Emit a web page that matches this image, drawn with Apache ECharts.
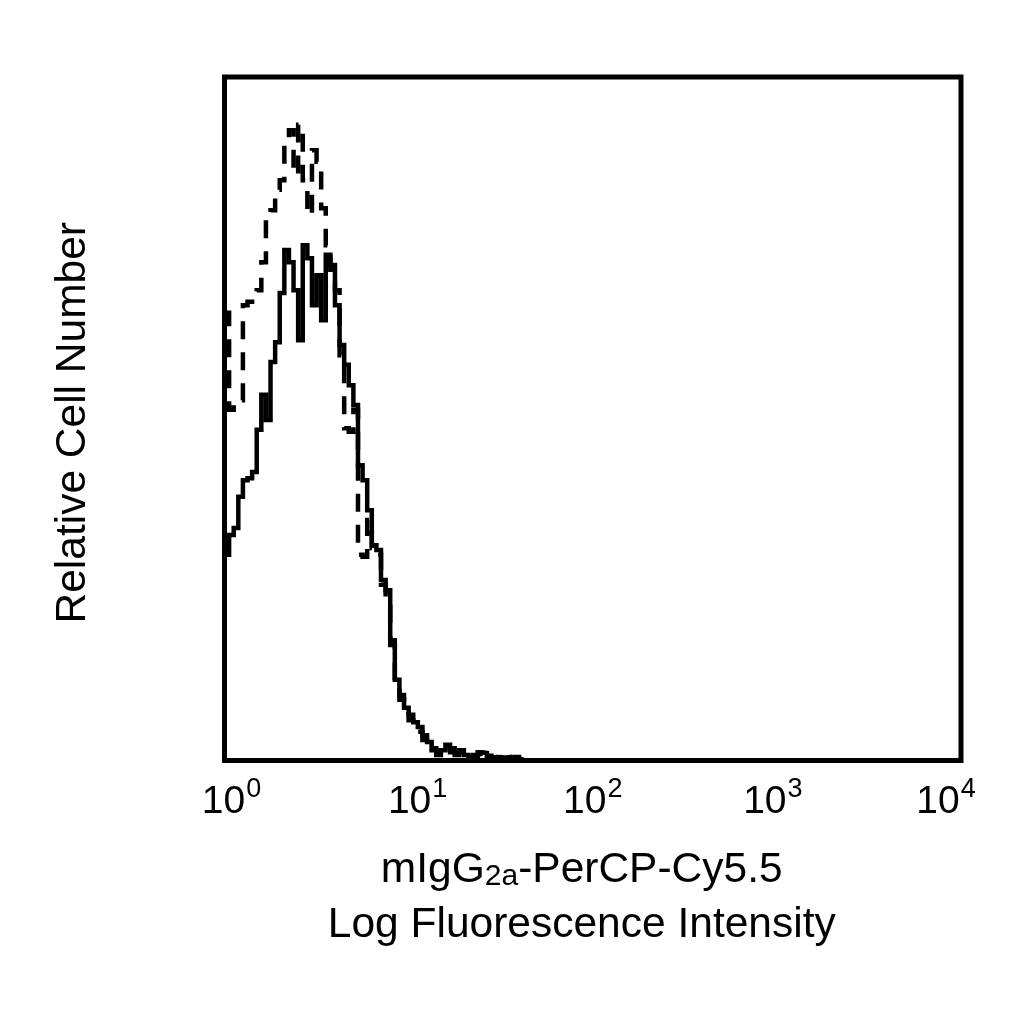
<!DOCTYPE html>
<html>
<head>
<meta charset="utf-8">
<script src="https://cdn.jsdelivr.net/npm/echarts@6/dist/echarts.min.js"></script>
<style>
  html, body { margin: 0; padding: 0; background: #fff; }
  #chart { width: 1024px; height: 1024px; }
</style>
</head>
<body>
<div id="chart"></div>
<script>
// histogram channels: 40 bins per decade, starting at 10^0
const binsPerDecade = 40
const decadeExponents = ['0', '1', '2', '3', '4']

// relative cell number per bin, solid trace
const solidCounts = [
  30.1, 33.0, 34.0, 38.6, 41.0, 41.3, 42.2, 48.4, 53.5, 49.8,
  58.3, 61.2, 68.4, 74.7, 72.9, 68.8, 61.5, 75.4, 73.5, 66.6,
  71.0, 64.4, 74.0, 71.8, 66.6, 60.8, 57.9, 54.9, 52.0, 43.2,
  41.0, 36.6, 31.5, 30.8, 26.4, 24.9, 17.6, 11.8, 9.6, 7.7,
  6.7, 5.6, 4.9, 3.7, 2.7, 1.8, 1.2, 1.5, 2.3, 1.8,
  1.2, 1.5, 0.8, 0.1, 0.5, 1.2, 1.1, 0.7, 0.4, 0.5,
  0.4, 0.5, 0.2, 0.5, 0.1
]

// relative cell number per bin, dashed trace
const dashedCounts = [
  65.5, 51.3, 52.0, 52.7, 66.6, 67.1, 68.1, 68.8, 72.9, 79.8,
  80.5, 83.5, 84.9, 90.8, 92.2, 85.7, 93.0, 84.9, 79.8, 89.3,
  87.6, 80.8, 75.4, 72.5, 68.8, 59.3, 48.6, 48.1, 51.3, 30.1,
  29.8, 35.2, 31.1, 30.1, 25.7, 23.5, 16.9, 11.1, 8.9, 7.1,
  5.9, 4.8, 4.2, 3.0, 2.3, 1.5, 0.8, 1.2, 1.8, 1.2,
  0.8, 1.1, 0.5, 0.4, 0.8, 1.0, 0.7, 0.4, 0.5, 0.2,
  0.4, 0.2, 0.1, 0.2, 0.1
]

const FONT = '"Liberation Sans", Arial, Helvetica, sans-serif'

// horizontal nudge of each decade label (px, + = right), as in the original figure
const LABEL_NUDGE = [7, 9, 0, -4, -15]

// bin i covers [10^(i/n), 10^((i+1)/n)], step 'end' keeps value until next edge
function toSteps (counts) {
  const pts = counts.map((c, i) => [Math.pow(10, i / binsPerDecade), c])
  pts.push([Math.pow(10, counts.length / binsPerDecade), 0])
  return pts
}

function decadeLabel (val) {
  const k = Math.round(Math.log10(val))
  const n = LABEL_NUDGE[k] || 0
  let s = '{b|10}{s|' + decadeExponents[k] + '}'
  if (n > 0) s = '{g' + (2 * n) + '|}' + s
  if (n < 0) s = s + '{g' + (-2 * n) + '|}'
  return s
}

const labelRich = {
  b: { fontFamily: FONT, fontSize: 39, lineHeight: 52, color: '#000' },
  s: { fontFamily: FONT, fontSize: 27, lineHeight: 28, color: '#000', verticalAlign: 'top', padding: [0, 0, 0, 1] }
}
LABEL_NUDGE.forEach(n => {
  if (n !== 0) labelRich['g' + Math.abs(2 * n)] = { width: Math.abs(2 * n), lineHeight: 1 }
})

const chart = echarts.init(document.getElementById('chart'), null, { renderer: 'canvas' })

chart.setOption({
  backgroundColor: '#fff',
  animation: false,
  grid: {
    left: 224.5,
    right: 63,
    top: 77,
    bottom: 263.5,
    show: true,
    borderColor: '#000',
    borderWidth: 5,
    backgroundColor: 'transparent'
  },
  xAxis: {
    type: 'log',
    logBase: 10,
    min: 1,
    max: 10000,
    axisLine: { show: false },
    axisTick: { show: false },
    splitLine: { show: false },
    axisLabel: {
      margin: 16,
      formatter: decadeLabel,
      rich: labelRich
    },
    name: '{a|mIgG}{sub|2a}{a|-PerCP-Cy5.5}\n{a|Log Fluorescence Intensity}',
    nameLocation: 'middle',
    nameGap: 82,
    nameTextStyle: {
      padding: [0, 22, 0, 0],
      rich: {
        a: { fontFamily: FONT, fontSize: 42.5, lineHeight: 55, color: '#000' },
        sub: { fontFamily: FONT, fontSize: 30, lineHeight: 55, color: '#000', verticalAlign: 'bottom', padding: [0, 0, 6, 0] }
      }
    }
  },
  yAxis: {
    type: 'value',
    min: 0,
    max: 100,
    axisLine: { show: false },
    axisTick: { show: false },
    axisLabel: { show: false },
    splitLine: { show: false },
    name: 'Relative Cell Number',
    nameLocation: 'middle',
    nameGap: 130,
    nameTextStyle: { fontFamily: FONT, fontSize: 42.5, lineHeight: 42, color: '#000', padding: [0, 8, 0, 0] }
  },
  series: [
    {
      name: 'solid',
      type: 'line',
      step: 'end',
      symbol: 'none',
      data: toSteps(solidCounts),
      lineStyle: { color: '#000', width: 4.5, type: 'solid', join: 'miter' },
      z: 3
    },
    {
      name: 'dashed',
      type: 'line',
      step: 'end',
      symbol: 'none',
      data: toSteps(dashedCounts),
      lineStyle: { color: '#000', width: 4.5, type: [18, 13], join: 'miter' },
      z: 4
    }
  ]
})
</script>
</body>
</html>
